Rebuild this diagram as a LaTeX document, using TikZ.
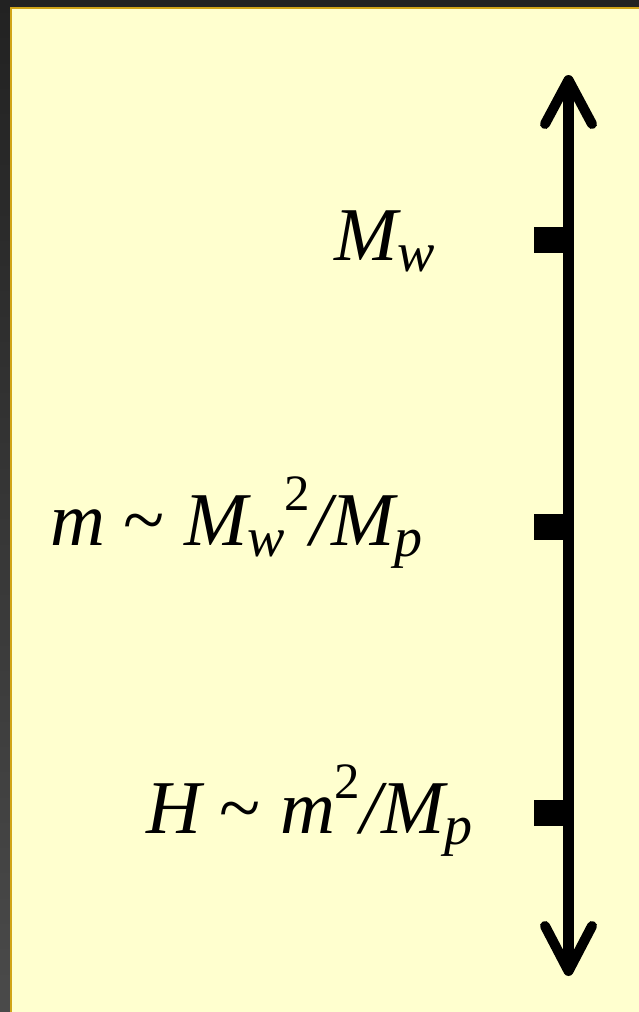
\documentclass[tikz,border=0pt]{standalone}
\usepackage{fontspec}
\setmainfont{Liberation Serif}
\definecolor{bgdark}{HTML}{222222}
\definecolor{bgdarkb}{HTML}{4A4A4A}
\definecolor{goldedge}{HTML}{D0A418}
\definecolor{paper}{HTML}{FFFFCF}
\newcommand{\mysub}[1]{\raisebox{-0.145em}{\fontsize{56pt}{56pt}\selectfont #1}}
\newcommand{\mysup}[1]{\raisebox{0.45em}{\fontsize{51pt}{51pt}\selectfont\upshape #1}}
\newcommand{\tl}{\upshape\textasciitilde\itshape}
\tikzset{
  lab/.style={inner sep=0pt, outer sep=0pt, font=\fontsize{76pt}{80pt}\selectfont\itshape, text=black},
  axisline/.style={line width=11pt, black},
  armline/.style={line width=10pt, black, line cap=round, line join=round},
  tickmark/.style={fill=black, draw=none, minimum width=32pt, minimum height=26pt, inner sep=0pt, outer sep=0pt}
}
\begin{document}
\begin{tikzpicture}[x=1pt,y=-1pt]
\useasboundingbox (0,0) rectangle (639,1012);
% frame
\shade[top color=bgdark, bottom color=bgdarkb] (0,0) rectangle (639,1012);
\fill[bgdark] (0,0) rectangle (639,7);
\fill[goldedge] (10,7) rectangle (639,1012);
\fill[paper] (12,9) rectangle (639,1012);
% axis
\coordinate (top) at (568.5,80);
\coordinate (bot) at (568.5,971);
\coordinate (tl) at (545,124);
\coordinate (tr) at (592,124);
\coordinate (bl) at (545,926);
\coordinate (br) at (592,926);
\draw[axisline] (top) -- (bot);
\draw[armline] (tl) -- (top) -- (tr);
\draw[armline] (bl) -- (bot) -- (br);
% ticks
\node[tickmark, anchor=east] (k1) at (566,240) {};
\node[tickmark, anchor=east] (k2) at (566,527) {};
\node[tickmark, anchor=east] (k3) at (566,813) {};
% labels
\node[lab, anchor=base west] (t1) at (334,260) {M\mysub{w}};
\node[lab, anchor=base west] (t2) at (50,545) {m \tl{} M\mysub{w}\mysup{2}/M\mysub{p}};
\node[lab, anchor=base west] (t3) at (146,833) {H \tl{} m\mysup{2}/M\mysub{p}};
\end{tikzpicture}
\end{document}
